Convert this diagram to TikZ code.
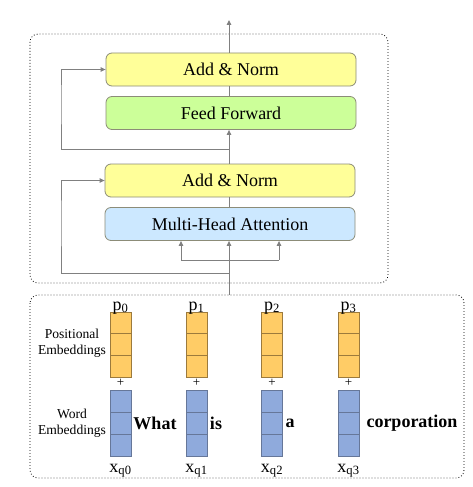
\documentclass[tikz,border=0pt]{standalone}
\usepackage{fontspec}
\setmainfont{Liberation Serif}
\usetikzlibrary{arrows.meta}
\definecolor{lnc}{HTML}{808080}
\definecolor{bdc}{HTML}{8C8C78}
\definecolor{anfill}{HTML}{FFFF99}
\definecolor{fffill}{HTML}{CCFF99}
\definecolor{mhfill}{HTML}{CCE8FF}
\definecolor{orfill}{HTML}{FFCC66}
\definecolor{orbd}{HTML}{9C7A3C}
\definecolor{blfill}{HTML}{8FAADC}
\definecolor{blbd}{HTML}{667799}
\tikzset{
  layerbox/.style={draw=bdc, line width=0.8pt, rounded corners=6pt, minimum width=250pt, minimum height=33pt, inner sep=0pt, font=\fontsize{18}{20}\selectfont},
  conn/.style={draw=lnc, line width=1pt},
  arr/.style={conn, -{Triangle[length=5pt,width=4.5pt]}},
  frame/.style={draw=black, line width=0.8pt, dash pattern=on 0.8pt off 2.2pt, rounded corners=8pt},
  orcell/.style={draw=orbd, fill=orfill, line width=0.7pt, minimum width=21pt, minimum height=21.7pt, inner sep=0pt},
  blcell/.style={draw=blbd, fill=blfill, line width=0.7pt, minimum width=21pt, minimum height=22pt, inner sep=0pt},
  lbl/.style={font=\fontsize{18}{20}\selectfont, inner sep=0pt},
  side/.style={font=\fontsize{13.6}{16}\selectfont, align=center, inner sep=0pt},
  word/.style={font=\fontsize{18}{20}\selectfont\bfseries, inner sep=0pt},
  plus/.style={font=\fontsize{13}{13}\selectfont, inner sep=0pt}
}
\begin{document}
\begin{tikzpicture}[x=1pt,y=-1pt]
\useasboundingbox (0,0) rectangle (472,487);
% frames
\draw[frame] (30,34) rectangle (388,283);
\draw[frame] (30,295) rectangle (464,478);
% layers
\node[layerbox, fill=anfill] (an1) at (231,69.5) {Add \& Norm};
\node[layerbox, fill=fffill] (ff) at (231,113) {Feed Forward};
\node[layerbox, fill=anfill] (an2) at (230,180.5) {Add \& Norm};
\node[layerbox, fill=mhfill] (mha) at (230,224) {Multi-Head Attention};
\coordinate (top) at (229,20);
\coordinate (in) at (229,295);
\coordinate (br) at (229,260);
\coordinate (r1) at (229,149);
\coordinate (r2) at (229,273);
% main spine
\draw[conn] (in) -- (br);
\draw[arr] (br) -- (mha.south -| br);
\draw[conn] (br -| 181,0) -- (br -| 279,0);
\draw[arr] (br -| 181,0) -- (mha.south -| 181,0);
\draw[arr] (br -| 279,0) -- (mha.south -| 279,0);
\draw[conn] (mha.north -| br) -- (an2.south -| br);
\draw[arr] (an2.north -| br) -- (ff.south -| br);
\draw[conn] (ff.north -| br) -- (an1.south -| br);
\draw[arr] (an1.north -| br) -- (top);
% residuals
\draw[arr] (r2) -| (61,220) |- (an2.west);
\draw[arr] (r1) -| (61,100) |- (an1.west);
% embeddings
\foreach \i/\x/\w/\wx in {0/120.5/What/155,1/196.5/is/216,2/272/a/290,3/348.5/corporation/412}{
  \node[orcell] (p\i a) at (\x,322.8) {};
  \node[orcell] (p\i b) at (\x,344.5) {};
  \node[orcell] (p\i c) at (\x,366.2) {};
  \node[blcell] (x\i a) at (\x,401) {};
  \node[blcell] (x\i b) at (\x,423) {};
  \node[blcell] (x\i c) at (\x,445) {};
  \node[lbl, anchor=base] (pl\i) at (\x,310) {p\textsubscript{\i}};
  \node[lbl, anchor=base] (xl\i) at (\x,472) {x\textsubscript{q\i}};
  \node[plus] (plus\i) at (\x,383) {+};
  \node[word] (w\i) at (\wx,423) {\w};
}
\node[side] (pe) at (72,343) {Positional\\Embeddings};
\node[side] (we) at (72,423) {Word\\Embeddings};
\end{tikzpicture}
\end{document}
